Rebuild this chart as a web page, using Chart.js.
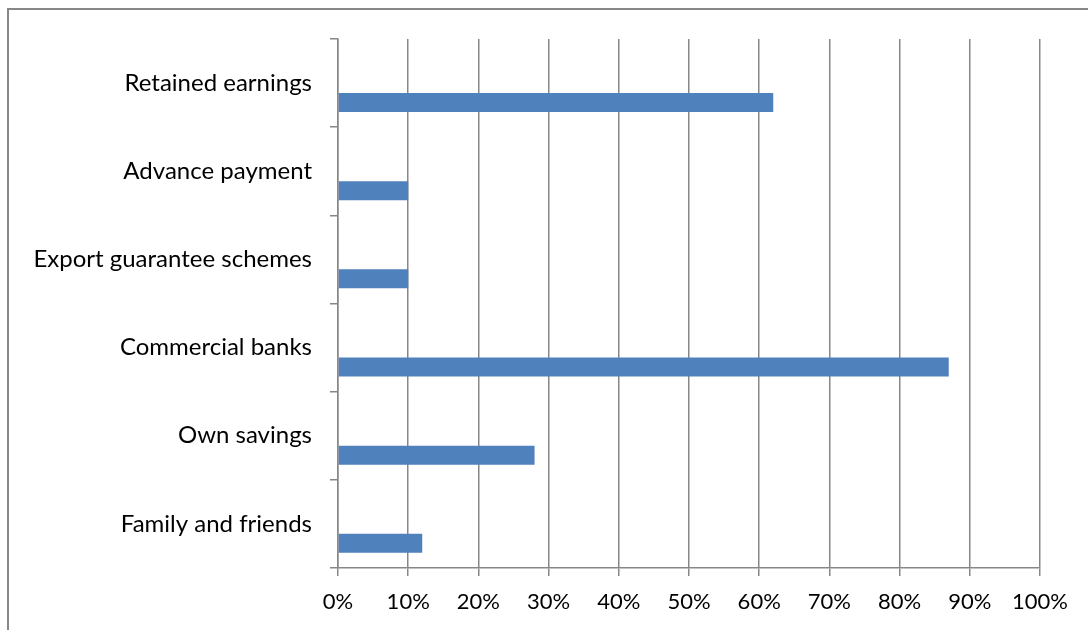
<!doctype html>
<html lang="en">
  <head>
    <meta charset="utf-8">
    <title>Sources of finance</title>
    <style>
      * {
        margin: 0;
        padding: 0;
      }
      body {
        width: 1088px;
        height: 630px;
        overflow: hidden;
        background: white;
      }
      .frame {
        position: absolute;
        left: 7px;
        top: 8px;
        width: 1100px;
        height: 640px;
        border-left: 2px solid #878787;
        border-top: 2px solid #878787;
      }
      .chartBox {
        position: absolute;
        left: 0;
        top: 0;
        width: 1088px;
        height: 630px;
      }
    </style>
  </head>
  <body>
    <div class="frame"></div>
    <div class="chartBox">
      <canvas id="myChart"></canvas>
    </div>
    <script src="https://cdn.jsdelivr.net/npm/chart.js"></script>
    <script>

    // setup
    const categories = ['Retained earnings', 'Advance payment', 'Export guarantee schemes', 'Commercial banks', 'Own savings', 'Family and friends'];
    const shares = [62, 10, 10, 87, 28, 12];
    const emptySeries = [null, null, null, null, null, null];
    const xTicks = [0, 10, 20, 30, 40, 50, 60, 70, 80, 90, 100];

    const gridColor = '#878787';

    const data = {
      labels: categories,
      datasets: [{
        label: 'blank',
        data: emptySeries,
        backgroundColor: 'rgba(0,0,0,0)'
      }, {
        label: 'Share',
        data: shares,
        backgroundColor: '#4F81BD',
        borderWidth: 0
      }]
    };

    // config
    const config = {
      type: 'bar',
      data,
      options: {
        indexAxis: 'y',
        responsive: false,
        animation: false,
        categoryPercentage: 0.88,
        barPercentage: 0.49,
        layout: {
          padding: { top: 39, right: 48, left: 0, bottom: 0 }
        },
        plugins: {
          legend: { display: false },
          tooltip: { enabled: false }
        },
        scales: {
          x: {
            min: 0,
            max: 100,
            afterBuildTicks: (scale) => {
              scale.ticks = xTicks.map(v => ({ value: v }));
            },
            afterFit: (scale) => {
              scale.height = 62;
            },
            grid: {
              color: gridColor,
              lineWidth: 1.5,
              tickLength: 8,
              drawTicks: true
            },
            border: { color: gridColor, width: 1.5 },
            ticks: {
              color: '#000',
              font: { family: 'Lato', size: 22 },
              padding: 13,
              maxRotation: 0,
              callback: (v) => v + '%'
            }
          },
          y: {
            afterFit: (scale) => {
              scale.width = 338;
            },
            grid: {
              offset: true,
              drawOnChartArea: false,
              color: gridColor,
              lineWidth: 1.5,
              tickLength: 8
            },
            border: { color: gridColor, width: 1.5 },
            ticks: {
              color: '#000',
              font: { family: 'Lato', size: 24 },
              padding: 18
            }
          }
        }
      }
    };

    // render init block
    const canvas = document.getElementById('myChart');
    canvas.width = 1088;
    canvas.height = 630;
    const myChart = new Chart(canvas, config);
    </script>
  </body>
</html>
